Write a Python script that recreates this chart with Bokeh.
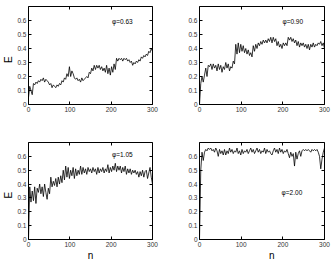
from bokeh.plotting import figure
from bokeh.models import LinearAxis, FixedTicker, Range1d
from bokeh.layouts import column, row
from bokeh.core.properties import value
from bokeh.embed import file_html
from bokeh.resources import INLINE

# ---------------- data ----------------
n = list(range(0, 301, 3))

E_063 = [0.05, 0.13, 0.10, 0.07, 0.15, 0.14, 0.16, 0.15, 0.17, 0.16,
         0.18, 0.17, 0.19, 0.16, 0.18, 0.17, 0.16, 0.14, 0.15, 0.12,
         0.14, 0.13, 0.12, 0.14, 0.13, 0.15, 0.14, 0.17, 0.16, 0.19,
         0.18, 0.22, 0.20, 0.27, 0.20, 0.24, 0.22, 0.19, 0.18, 0.19,
         0.17, 0.18, 0.16, 0.19, 0.17, 0.18, 0.19, 0.20, 0.19, 0.23,
         0.22, 0.26, 0.24, 0.28, 0.25, 0.28, 0.26, 0.28, 0.25, 0.27,
         0.24, 0.26, 0.23, 0.28, 0.22, 0.26, 0.21, 0.27, 0.23, 0.29,
         0.25, 0.33, 0.31, 0.33, 0.32, 0.33, 0.31, 0.33, 0.32, 0.33,
         0.31, 0.32, 0.30, 0.31, 0.28, 0.30, 0.29, 0.31, 0.30, 0.32,
         0.31, 0.34, 0.33, 0.35, 0.34, 0.36, 0.35, 0.38, 0.37, 0.40,
         0.38]

E_090 = [0.00, 0.15, 0.20, 0.16, 0.21, 0.26, 0.20, 0.28, 0.27, 0.29,
         0.25, 0.29, 0.26, 0.28, 0.24, 0.29, 0.25, 0.28, 0.23, 0.27,
         0.25, 0.30, 0.26, 0.29, 0.24, 0.27, 0.26, 0.31, 0.29, 0.43,
         0.36, 0.44, 0.37, 0.43, 0.38, 0.42, 0.37, 0.40, 0.36, 0.39,
         0.35, 0.37, 0.34, 0.42, 0.38, 0.43, 0.40, 0.44, 0.42, 0.45,
         0.43, 0.46, 0.44, 0.46, 0.44, 0.47, 0.45, 0.48, 0.44, 0.48,
         0.45, 0.47, 0.42, 0.45, 0.41, 0.43, 0.40, 0.44, 0.42, 0.44,
         0.42, 0.48, 0.46, 0.48, 0.45, 0.47, 0.44, 0.46, 0.42, 0.45,
         0.41, 0.44, 0.42, 0.44, 0.41, 0.43, 0.40, 0.43, 0.39, 0.43,
         0.41, 0.44, 0.41, 0.43, 0.42, 0.44, 0.43, 0.45, 0.42, 0.44,
         0.40]

E_105 = [0.00, 0.38, 0.27, 0.35, 0.28, 0.38, 0.26, 0.37, 0.34, 0.40,
         0.33, 0.38, 0.31, 0.40, 0.34, 0.29, 0.37, 0.33, 0.45, 0.38,
         0.42, 0.39, 0.44, 0.38, 0.45, 0.40, 0.46, 0.41, 0.50, 0.43,
         0.53, 0.45, 0.52, 0.44, 0.50, 0.46, 0.52, 0.44, 0.51, 0.46,
         0.50, 0.47, 0.53, 0.47, 0.52, 0.48, 0.51, 0.47, 0.52, 0.49,
         0.51, 0.48, 0.52, 0.49, 0.51, 0.47, 0.52, 0.48, 0.51, 0.49,
         0.52, 0.48, 0.51, 0.49, 0.54, 0.48, 0.52, 0.49, 0.53, 0.50,
         0.55, 0.49, 0.53, 0.50, 0.53, 0.48, 0.52, 0.49, 0.53, 0.47,
         0.51, 0.48, 0.51, 0.47, 0.50, 0.48, 0.50, 0.47, 0.49, 0.45,
         0.49, 0.46, 0.50, 0.45, 0.49, 0.50, 0.44, 0.48, 0.52, 0.45,
         0.40]

E_200 = [0.00, 0.50, 0.63, 0.57, 0.63, 0.65, 0.64, 0.66, 0.65, 0.66,
         0.64, 0.65, 0.63, 0.66, 0.64, 0.60, 0.65, 0.62, 0.64, 0.61,
         0.65, 0.61, 0.64, 0.62, 0.66, 0.63, 0.65, 0.62, 0.64, 0.63,
         0.66, 0.62, 0.64, 0.61, 0.65, 0.62, 0.64, 0.63, 0.65, 0.62,
         0.64, 0.66, 0.63, 0.65, 0.62, 0.64, 0.66, 0.63, 0.65, 0.62,
         0.64, 0.63, 0.66, 0.62, 0.65, 0.63, 0.64, 0.62, 0.61, 0.64,
         0.66, 0.63, 0.65, 0.62, 0.66, 0.63, 0.65, 0.62, 0.64, 0.63,
         0.65, 0.62, 0.59, 0.63, 0.60, 0.62, 0.53, 0.63, 0.58, 0.62,
         0.64, 0.60, 0.64, 0.65, 0.64, 0.65, 0.64, 0.65, 0.64, 0.63,
         0.65, 0.64, 0.65, 0.64, 0.65, 0.63, 0.60, 0.51, 0.58, 0.63,
         0.66]

phi_labels = ["\u03c6=0.63", "\u03c6=0.90", "\u03c6=1.05", "\u03c6=2.00"]
phi_x = [202, 199, 202, 197]
phi_y = [0.59, 0.59, 0.61, 0.34]

y_ticks = [0, 0.1, 0.2, 0.3, 0.4, 0.5, 0.6]
x_ticks = [0, 100, 200, 300]

FONT = "Liberation Sans"
TICK_COLOR = "#333333"
NB = "\u00a0"


def style_axis(ax, ticks, show_labels=True):
    ax.ticker = FixedTicker(ticks=ticks)
    ax.major_tick_in = 3
    ax.major_tick_out = 0
    ax.minor_tick_line_color = None
    ax.axis_line_color = None
    ax.major_tick_line_color = "black"
    ax.major_tick_line_width = 1
    if show_labels:
        ax.major_label_text_font = FONT
        ax.major_label_text_font_size = "6.5px"
        ax.major_label_text_color = TICK_COLOR
        ax.major_label_standoff = 2
    else:
        ax.major_label_overrides = {t: "" for t in ticks}
        ax.major_label_standoff = 0


def set_label(ax, text):
    ax.axis_label = text
    ax.axis_label_text_font = FONT
    ax.axis_label_text_font_size = "10px"
    ax.axis_label_text_font_style = "normal"
    ax.axis_label_text_color = "black"
    ax.axis_label_standoff = 0


def panel(vals, idx, width, height, bl, br, bt, bb, ylab, xlab):
    p = figure(width=width, height=height, output_backend="svg", toolbar_location=None,
               x_range=Range1d(0, 300), y_range=Range1d(0, 0.7),
               min_border_left=bl, min_border_right=br,
               min_border_top=bt, min_border_bottom=bb)
    p.xgrid.grid_line_color = None
    p.ygrid.grid_line_color = None
    p.outline_line_color = "black"
    p.outline_line_width = 1
    p.background_fill_color = "white"
    p.border_fill_color = "white"

    bottom_axis = p.xaxis[0]
    left_axis = p.yaxis[0]
    style_axis(bottom_axis, x_ticks)
    style_axis(left_axis, y_ticks)
    left_axis.major_label_overrides = {0: "0"}
    if ylab:
        set_label(left_axis, ylab)
    if xlab:
        set_label(bottom_axis, xlab)

    ra = LinearAxis()
    style_axis(ra, y_ticks, show_labels=False)
    p.add_layout(ra, "right")
    ta = LinearAxis()
    style_axis(ta, x_ticks, show_labels=False)
    p.add_layout(ta, "above")

    p.line(n, vals, line_color="black", line_width=0.8)

    p.text(x=[phi_x[idx]], y=[phi_y[idx]], text=[phi_labels[idx]],
           text_font=value(FONT), text_font_size="6.5px", text_color="black",
           text_align="left", text_baseline="middle")
    return p


ylabel = "E" + NB * 3

p1 = panel(E_063, 0, 172, 138, 26, 20, 6, 34, ylabel, None)
p2 = panel(E_090, 1, 160, 138, 27, 8, 6, 34, None, None)
p3 = panel(E_105, 2, 172, 125, 26, 20, 4, 23, ylabel, "n")
p4 = panel(E_200, 3, 160, 125, 27, 8, 4, 23, None, NB * 7 + "n")

layout = column(row(p1, p2), row(p3, p4))

open("out.html", "w").write(file_html(layout, INLINE))
